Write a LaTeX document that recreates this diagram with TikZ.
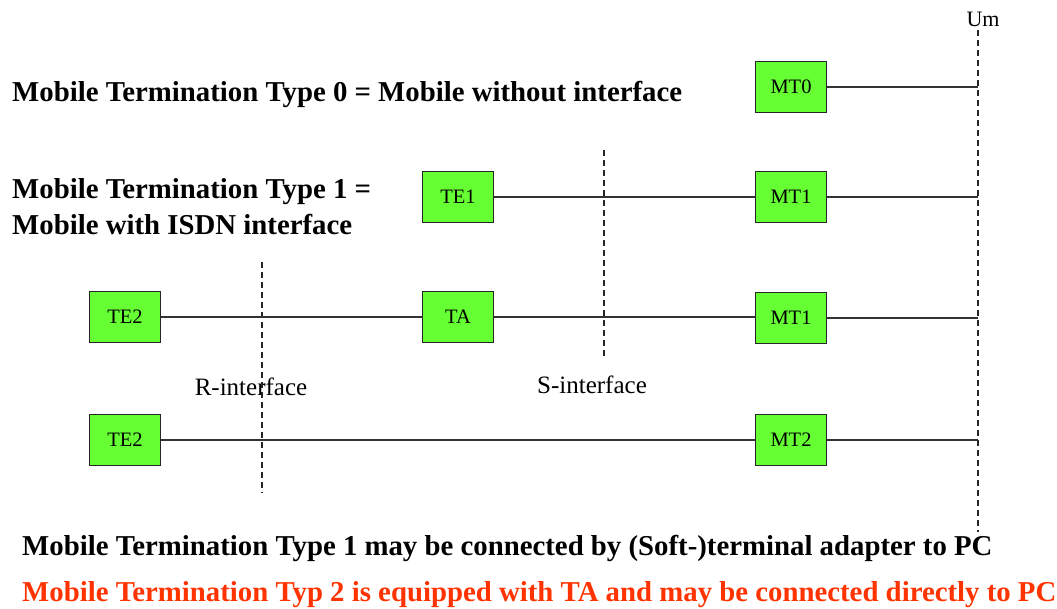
\documentclass[tikz,border=0pt]{standalone}
\usepackage{fontspec}
\setmainfont{Liberation Serif}
\usetikzlibrary{positioning}
\definecolor{boxgreen}{HTML}{66FF33}
\definecolor{notered}{HTML}{FF3300}
\tikzset{unit/.style = {draw = black!85, fill = boxgreen, line width = 1.5pt, minimum width = 71pt, minimum height = 51pt, inner sep = 0, font = \fontsize{20.5}{20.5}\selectfont}}
\tikzset{iface/.style = {line width = 1.3pt, dash pattern = on 6pt off 4pt, black!85}}
\tikzset{wire/.style = {line width = 1.6pt, black!80}}
\tikzset{heading/.style = {anchor = west, inner sep = 0, font = \bfseries\fontsize{28.8}{36}\selectfont}}
\tikzset{ifname/.style = {inner sep = 0, font = \fontsize{25}{25}\selectfont}}

\begin{document}
\begin{tikzpicture}[x = 1pt, y = -1pt]
      \useasboundingbox (0, 0) rectangle (1057, 609);
      % text on the left and below
      \node [heading] (type0) at (12, 94) {Mobile Termination Type 0 = Mobile without interface};
      \node [heading, align = left] (type1) at (12, 207) {Mobile Termination Type 1 =\\Mobile with ISDN interface};
      \node [heading] (note1) at (22, 548) {Mobile Termination Type 1 may be connected by (Soft-)terminal adapter to PC};
      \node [heading, text = notered] (note2) at (22, 595) {Mobile Termination Typ 2 is equipped with TA and may be connected directly to PC};
      % interfaces
      \coordinate (umtop) at (978, 30);
      \coordinate (umbot) at (978, 532);
      \node [inner sep = 0, font = \fontsize{22}{22}\selectfont] (um) at (983, 19) {Um};
      \coordinate (rtop) at (262, 262);
      \coordinate (rbot) at (262, 493);
      \node [ifname] (rname) at (251, 387) {R-interface};
      \coordinate (stop) at (604, 150);
      \coordinate (sbot) at (604, 357);
      \node [ifname] (sname) at (592, 385) {S-interface};
      \draw [iface] (umtop) -- (umbot);
      \draw [iface] (rtop) -- (rbot);
      \draw [iface] (stop) -- (sbot);
      % units
      \node [unit] (mt0) at (791, 87) {MT0};
      \node [unit] (te1) at (458, 197) {TE1};
      \node [unit] (mt1a) at (791, 197) {MT1};
      \node [unit] (te2a) at (125, 317) {TE2};
      \node [unit] (ta) at (458, 317) {TA};
      \node [unit] (mt1b) at (791, 318) {MT1};
      \node [unit] (te2b) at (125, 440) {TE2};
      \node [unit] (mt2) at (791, 440) {MT2};
      % wires
      \draw [wire] (te1) -- (mt1a);
      \draw [wire] (te2a) -- (ta);
      \draw [wire] (ta) -- (ta -| mt1b.west);
      \draw [wire] (te2b) -- (mt2);
      \foreach \u in {mt0, mt1a, mt1b, mt2} {
        \draw [wire] (\u) -- (\u -| umtop);
      }
    \end{tikzpicture}
\end{document}
